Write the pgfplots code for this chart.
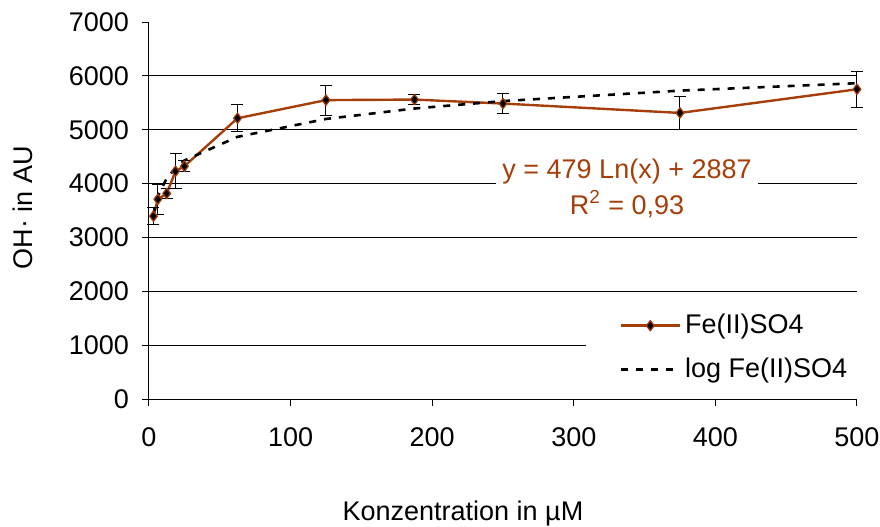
\documentclass[border=0pt]{standalone}
\usepackage{fontspec}
\setmainfont{Liberation Sans}
\usepackage{pgfplots}
\usepackage{pgfplotstable}
\pgfplotsset{compat=1.18}

\definecolor{feline}{RGB}{166,62,10}

% measured OH radical signal with standard deviation
\pgfplotstableread{
x      y     err
3.125  3395  160
6.25   3710  280
12.5   3816  100
18.75  4230  330
25     4323  100
62.5   5213  255
125    5550  280
187.5  5560  100
250    5486  185
375    5312  310
500    5751  330
}\fedata

% logarithmic trend y = 479 ln(x) + 2887 at the measured concentrations
\pgfplotstableread{
x      y
3.125  3433
6.25   3765
12.5   4097
18.75  4291
25     4429
62.5   4868
125    5200
187.5  5394
250    5532
375    5726
500    5864
}\fetrend

\begin{document}
\begin{tikzpicture}[font=\fontsize{13.5}{16}\selectfont]
\path[use as bounding box] (0,0) rectangle (440pt,263pt);
\begin{axis}[
  at={(74.5pt,63.5pt)}, anchor=south west,
  scale only axis, width=354pt, height=188.5pt,
  xmin=0, xmax=500, ymin=0, ymax=7000,
  axis lines*=left,
  axis line style={black, line width=0.5pt},
  tick align=outside,
  major tick length=3.5pt,
  tick style={black, line width=0.5pt},
  xtick={0,100,...,500},
  ytick={0,1000,...,6000},
  extra y ticks={7000},
  extra y tick style={grid=none},
  ymajorgrids,
  grid style={black, line width=0.5pt},
  /pgf/number format/assume math mode=true,
  /pgf/number format/1000 sep={},
  yticklabel style={xshift=-3pt},
  xticklabel style={yshift=-7.5pt},
  xlabel={Konzentration in µM},
  xlabel style={at={(axis description cs:0.4435,-0.304)}, anchor=center},
  ylabel={OH· in AU},
  ylabel style={at={(axis description cs:-0.1787,0.507)}, anchor=center},
  clip=false,
  legend cell align=left,
  legend image code/.code={
    \draw[mark repeat=2,mark phase=2,#1]
      plot coordinates {(0pt,0pt) (14.75pt,0pt) (29.5pt,0pt)};},
  legend style={at={(axis description cs:0.616,0.2626)}, anchor=north west,
    draw=none, fill=white, inner xsep=17pt, inner ysep=5pt, row sep=6.5pt,
    nodes={inner xsep=2pt}},
]
\addplot[color=feline, line width=1.2pt, line join=round,
  mark=diamond*, mark size=2.6pt, mark options={fill=black, draw=feline, line width=0.6pt},
  error bars/.cd, y dir=both, y explicit,
  error bar style={black, line width=0.5pt},
  error mark options={rotate=90, mark size=3pt, black, line width=0.5pt}]
  table[x=x, y=y, y error=err] {\fedata};
\addlegendentry{Fe(II)SO4}

\addplot[black, line width=1.3pt, dash pattern=on 3.5pt off 4pt]
  table[x=x, y=y] {\fetrend};
\addlegendentry{log Fe(II)SO4}

\node[fill=white, text=feline, align=center, inner xsep=3pt, inner ysep=2pt]
  at (axis cs:337.6,3915) {y = 479 Ln(x) + 2887\\[2pt]R\textsuperscript{2} = 0,93};
\end{axis}
\end{tikzpicture}
\end{document}
